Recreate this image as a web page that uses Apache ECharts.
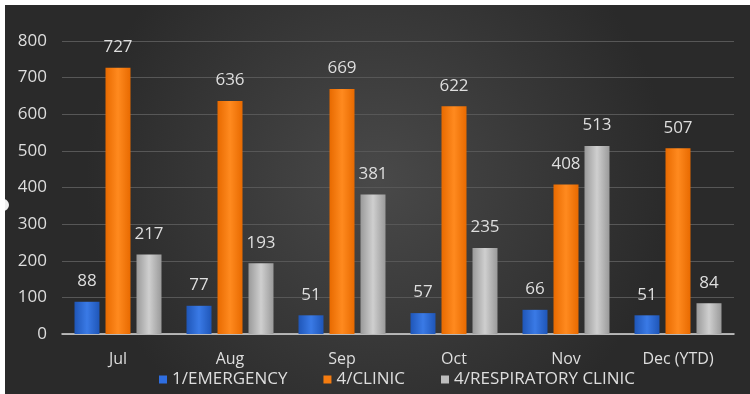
<!DOCTYPE html>
<html><head><meta charset="utf-8">
<script src="https://cdn.jsdelivr.net/npm/echarts@6/dist/echarts.min.js"></script>
<style>html,body{margin:0;padding:0;background:#fff;}#c{position:absolute;left:5px;top:5px;width:745px;height:389px;}</style>
</head><body><div id="c"></div>
<script>
const categories = ['Jul','Aug','Sep','Oct','Nov','Dec (YTD)'];
const emergency = [88,77,51,57,66,51];
const clinic = [727,636,669,622,408,507];
const respiratory = [217,193,381,235,513,84];
const seriesNames = ['1/EMERGENCY','4/CLINIC','4/RESPIRATORY CLINIC'];

function grad(c1,c2,c3){return {type:'linear',x:0,y:0,x2:1,y2:0,colorStops:[{offset:0,color:c1},{offset:0.5,color:c2},{offset:1,color:c3}]};}
const colors = [grad('#1f56b8','#3a7ae6','#1f56b8'), grad('#e86a00','#ff8a1f','#e86a00'), grad('#9a9a9a','#cfcfcf','#9a9a9a')];
const legendColors = ['#2f6ee0','#f57c10','#bdbdbd'];
const chart = echarts.init(document.getElementById('c'));
const txt = '#dedede';
const lbl = {show:true,position:'top',distance:12,color:txt,fontSize:17,fontFamily:'Open Sans'};
chart.setOption({
  backgroundColor:{type:'radial',x:0.5,y:0.45,r:0.75,colorStops:[{offset:0,color:'#494949'},{offset:1,color:'#2a2a2a'}]},
  animation:false,
  grid:{left:57,right:16,top:36,bottom:60},
  legend:{top:361,left:149,itemWidth:8,itemHeight:8,itemGap:36,icon:'rect',
    textStyle:{color:txt,fontSize:17,fontFamily:'Open Sans'},
    data:seriesNames.map((n,i)=>({name:n,itemStyle:{color:legendColors[i]}}))},
  xAxis:{type:'category',data:categories,
    axisLine:{lineStyle:{color:'#d9d9d9',width:1.5}},axisTick:{show:false},
    axisLabel:{color:txt,fontSize:16,margin:17,fontFamily:'Open Sans'}},
  yAxis:{type:'value',min:0,max:800,interval:100,
    axisLine:{show:false},axisTick:{show:false},
    splitLine:{lineStyle:{color:'#575757',width:1}},
    axisLabel:{color:txt,fontSize:17,margin:15,fontFamily:'Open Sans'}},
  series:[
    {name:seriesNames[0],type:'bar',data:emergency,barWidth:25,barGap:'24%',itemStyle:{color:colors[0]},label:lbl},
    {name:seriesNames[1],type:'bar',data:clinic,barWidth:25,barGap:'24%',itemStyle:{color:colors[1]},label:lbl},
    {name:seriesNames[2],type:'bar',data:respiratory,barWidth:25,barGap:'24%',itemStyle:{color:colors[2]},label:lbl}
  ],
  graphic:[{type:'circle',shape:{cx:-2,cy:200,r:6},style:{fill:'#f0f0f0'}}]
});
</script></body></html>
